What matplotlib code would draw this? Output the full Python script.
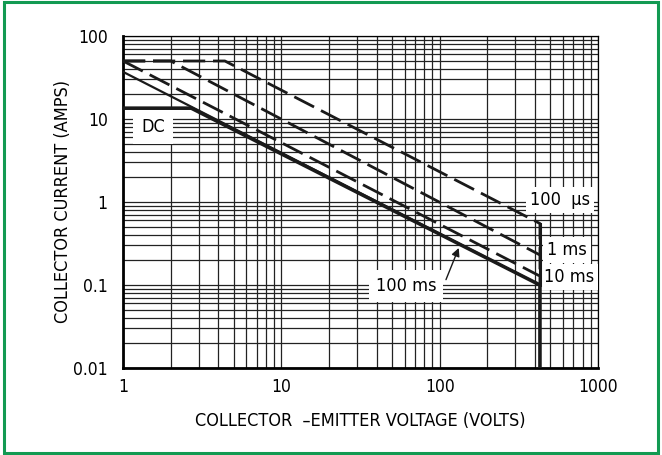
import matplotlib
matplotlib.use('Agg')
import matplotlib.pyplot as plt
from matplotlib.patches import Rectangle

plt.rcParams['font.family'] = ['DejaVu Sans']
plt.rcParams['font.stretch'] = 'condensed'

# safe operating area curves (volts, amps)
v_100us = [1, 4.4, 430, 430]
i_100us = [50, 50, 0.55, 0.1]
v_1ms = [1, 2, 430]
i_1ms = [50, 50, 0.23]
v_10ms = [1, 430]
i_10ms = [50, 0.128]
v_100ms = [1, 430]
i_100ms = [37, 0.1]
v_dc = [1, 2.7, 430, 430]
i_dc = [13.5, 13.5, 0.1, 0.01]

x_ticks = [1, 10, 100, 1000]
x_labels = ['1', '10', '100', '1000']
y_ticks = [0.01, 0.1, 1, 10, 100]
y_labels = ['0.01', '0.1', '1', '10', '100']

fig = plt.figure(figsize=(6.62, 4.55), dpi=100)
fig.patches.append(Rectangle((0.006, 0.005), 0.988, 0.99, transform=fig.transFigure,
                             fill=False, edgecolor='#129a52', linewidth=2.2))
ax = fig.add_axes([0.1858, 0.1912, 0.7175, 0.7297])
ax.set_xscale('log')
ax.set_yscale('log')
ax.set_xlim(1, 1000)
ax.set_ylim(0.01, 100)

ax.grid(True, which='both', color='#222222', linewidth=0.9)
ax.set_axisbelow(True)
ax.tick_params(which='both', length=0, labelsize=12.5)
ax.tick_params(axis='y', pad=11)
ax.tick_params(axis='x', pad=7)
ax.set_xticks(x_ticks)
ax.set_xticklabels(x_labels)
ax.set_yticks(y_ticks)
ax.set_yticklabels(y_labels)
for s in ['top', 'right']:
    ax.spines[s].set_linewidth(0.9)
for s in ['left', 'bottom']:
    ax.spines[s].set_linewidth(2)

dash = (8, 2.8)
l1, = ax.plot(v_100us, i_100us, color='#1a1a1a', lw=2, zorder=4)
l1.set_dashes(dash)
ax.plot(v_100us[2:], i_100us[2:], color='#1a1a1a', lw=2.2, zorder=4)
l2, = ax.plot(v_1ms, i_1ms, color='#1a1a1a', lw=2, zorder=4)
l2.set_dashes(dash)
l3, = ax.plot(v_10ms, i_10ms, color='#1a1a1a', lw=2, zorder=4)
l3.set_dashes(dash)
ax.plot(v_100ms, i_100ms, color='#1a1a1a', lw=1.6, zorder=4)
ax.plot(v_dc, i_dc, color='#1a1a1a', lw=2.6, zorder=4)

box = dict(facecolor='white', edgecolor='none', pad=3)
ax.text(1.55, 8.0, 'DC', fontsize=13, ha='center', va='center',
        bbox=dict(facecolor='white', edgecolor='none', pad=6))
ax.text(577, 1.06, '100  µs', fontsize=13, ha='center', va='center', bbox=box)
ax.text(475, 0.264, '1 ms', fontsize=13, ha='left', va='center', bbox=box)
ax.text(455, 0.125, '10 ms', fontsize=13, ha='left', va='center', bbox=box)
ax.text(61.5, 0.097, '100 ms', fontsize=13, ha='center', va='center',
        bbox=dict(facecolor='white', edgecolor='none', pad=5))
ax.annotate('', xy=(134, 0.30), xytext=(108, 0.108),
            arrowprops=dict(arrowstyle='-|>', color='#1a1a1a', lw=1, mutation_scale=12))

ax.set_xlabel('COLLECTOR  –EMITTER VOLTAGE (VOLTS)', fontsize=13, labelpad=12)
ax.set_ylabel('COLLECTOR CURRENT (AMPS)', fontsize=13, labelpad=1)

fig.savefig('out.png', dpi=100)
